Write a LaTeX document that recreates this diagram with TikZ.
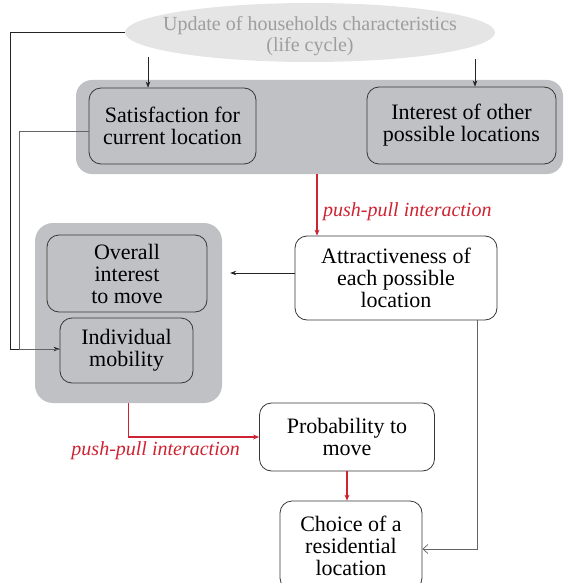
\documentclass[tikz,border=0pt]{standalone}
\usepackage{fontspec}
\setmainfont{Liberation Serif}
\usetikzlibrary{arrows.meta,shapes.geometric}
\definecolor{grp}{RGB}{192,193,197}
\definecolor{ellf}{RGB}{229,229,229}
\definecolor{ellt}{RGB}{158,158,158}
\definecolor{pp}{RGB}{205,35,50}
\definecolor{ln}{RGB}{35,35,35}
\definecolor{lng}{RGB}{100,100,100}
\definecolor{bd}{RGB}{55,55,55}
\begin{document}
\begin{tikzpicture}[x=1pt,y=-1pt,
  group/.style={fill=grp,rounded corners=16pt,inner sep=0pt},
  grbox/.style={draw=bd,line width=0.8pt,fill=grp,rounded corners=12pt,inner sep=0pt,align=center,font=\fontsize{22}{22}\selectfont},
  wbox/.style={grbox,fill=white},
  conn/.style={draw=ln,line width=0.7pt,-{Stealth[length=6pt,width=4.5pt]}},
  connplain/.style={draw=lng,line width=0.7pt},
  openconn/.style={draw=lng,line width=0.7pt,-{Straight Barb[length=5pt,width=9pt]}},
  redconn/.style={draw=pp,line width=1.2pt,-{Stealth[length=6pt,width=5pt]}},
  pplabel/.style={text=pp,font=\fontsize{20}{20}\selectfont\itshape,inner sep=0pt}
]
\useasboundingbox (0,0) rectangle (563,583);

% groups
\node[group,minimum width=487pt,minimum height=94pt] (g1) at (319.5,127) {};
\node[group,minimum width=187pt,minimum height=180pt,rounded corners=18pt] (g2) at (128.5,313) {};

% ellipse
\node[ellipse,fill=ellf,minimum width=370pt,minimum height=59pt,inner sep=0pt] (ell) at (310,32.5) {};
\node[text=ellt,align=center,inner sep=0pt,font=\fontsize{20}{21}\selectfont] (ellt) at ([yshift=-4pt]ell.center) {Update of households characteristics\\(life cycle)};

% boxes
\node[grbox,minimum width=167pt,minimum height=76pt] (sat) at (172.5,126) {Satisfaction for\\current location};
\node[grbox,minimum width=189pt,minimum height=77pt] (int) at (461.5,125.5) {Interest of other\\possible locations};
\node[grbox,minimum width=160pt,minimum height=77pt] (ovr) at (127,273.5) {Overall\\interest\\to move};
\node[grbox,minimum width=133pt,minimum height=65pt] (ind) at (126.5,350.5) {Individual\\mobility};
\node[wbox,minimum width=202pt,minimum height=84pt] (att) at (396,278) {Attractiveness of\\each possible\\location};
\node[wbox,minimum width=175pt,minimum height=68pt] (prob) at (347,437) {Probability to\\move};
\node[wbox,minimum width=142pt,minimum height=89pt] (cho) at (351,545.5) {Choice of a\\residential\\location};

% connectors from ellipse
\coordinate (e1) at (148,57);
\coordinate (e2) at (475,59);
\draw[conn] (e1) -- (e1 |- sat.north);
\draw[conn] (e2) -- (e2 |- int.north);
\draw[conn] (ell.west) -- ++(-114,0) |- ([yshift=1.5pt]ind.west);
\draw[connplain] ([yshift=-5pt]sat.west) -- ++(-69,0) |- ([yshift=1.5pt]ind.west);

% attractiveness to group 2
\draw[conn,shorten >=8pt] ([yshift=5pt]att.west) -- ([yshift=5pt]att.west -| g2.east);

% red connectors
\coordinate (r1) at (317,174);
\draw[redconn] (r1) -- (r1 |- att.north);
\node[pplabel,anchor=west] (pp1) at (323,212) {push-pull interaction};
\draw[redconn] (g2.south) |- (prob.west);
\node[pplabel,anchor=east] (pp2) at (240,451) {push-pull interaction};
\draw[redconn] (prob.south) -- (prob.south |- cho.north);

% attractiveness to choice
\coordinate (a1) at (477,320);
\draw[openconn] (a1) |- ([yshift=-3.5pt]cho.east);
\end{tikzpicture}
\end{document}
